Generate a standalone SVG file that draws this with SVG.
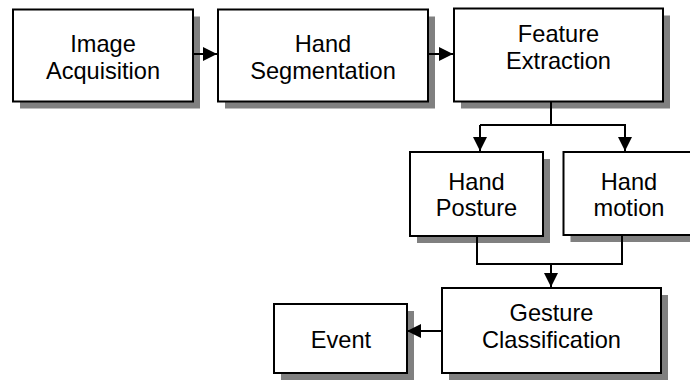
<svg xmlns="http://www.w3.org/2000/svg" width="690" height="380" viewBox="0 0 690 380">
<defs>
<marker id="ah" markerUnits="userSpaceOnUse" markerWidth="16" markerHeight="16" refX="14" refY="7" orient="auto">
<path d="M0,0 L14,7 L0,14 Z" fill="#000"/>
</marker>
<style>
.sh{fill:#808080;stroke:none}
.bx{fill:#fff;stroke:#000;stroke-width:2}
.t{font-family:"Liberation Sans",Arial,sans-serif;font-size:23.6px;text-anchor:middle;fill:#000}
.c{fill:none;stroke:#000;stroke-width:2}
</style>
</defs>
<rect width="690" height="380" fill="#fff"/>
<g id="image-acquisition">
<rect class="sh" x="20" y="16.5" width="180" height="92"/>
<rect class="bx" x="13" y="9.5" width="180" height="92"/>
<text class="t" x="103" y="52">Image</text>
<text class="t" x="103" y="78.5">Acquisition</text>
</g>
<g id="hand-segmentation">
<rect class="sh" x="225" y="16.5" width="210" height="92"/>
<rect class="bx" x="218" y="9.5" width="210" height="92"/>
<text class="t" x="323" y="52">Hand</text>
<text class="t" x="323" y="78.5">Segmentation</text>
</g>
<g id="feature-extraction">
<rect class="sh" x="461" y="15.5" width="209" height="93"/>
<rect class="bx" x="454" y="8.5" width="209" height="93"/>
<text class="t" x="558.5" y="42">Feature</text>
<text class="t" x="558.5" y="68.5">Extraction</text>
</g>
<g id="hand-posture">
<rect class="sh" x="417" y="159" width="133" height="84"/>
<rect class="bx" x="410" y="152" width="133" height="84"/>
<text class="t" x="476.5" y="190">Hand</text>
<text class="t" x="476.5" y="216">Posture</text>
</g>
<g id="hand-motion">
<rect class="sh" x="570.5" y="159" width="133" height="83"/>
<rect class="bx" x="563.5" y="152" width="133" height="83"/>
<text class="t" x="629" y="190">Hand</text>
<text class="t" x="629" y="216">motion</text>
</g>
<g id="gesture-classification">
<rect class="sh" x="449" y="295" width="219" height="85"/>
<rect class="bx" x="442" y="288" width="219" height="85"/>
<text class="t" x="551.5" y="321">Gesture</text>
<text class="t" x="551.5" y="347.5">Classification</text>
</g>
<g id="event">
<rect class="sh" x="281" y="311" width="133" height="69"/>
<rect class="bx" x="274" y="304" width="133" height="69"/>
<text class="t" x="341" y="347.5">Event</text>
</g>
<g id="connectors">
<line class="c" x1="194" y1="54" x2="217" y2="54" marker-end="url(#ah)"/>
<line class="c" x1="429" y1="54" x2="453" y2="54" marker-end="url(#ah)"/>
<polyline class="c" points="551,102 551,125"/>
<polyline class="c" points="480,125 625,125 625,151" marker-end="url(#ah)"/>
<line class="c" x1="480" y1="125" x2="480" y2="151" marker-end="url(#ah)"/>
<polyline class="c" points="477,236 477,264 622,264 622,235"/>
<line class="c" x1="551" y1="264" x2="551" y2="287" marker-end="url(#ah)"/>
<line class="c" x1="441" y1="331" x2="407" y2="331" marker-end="url(#ah)"/>
</g>
</svg>
